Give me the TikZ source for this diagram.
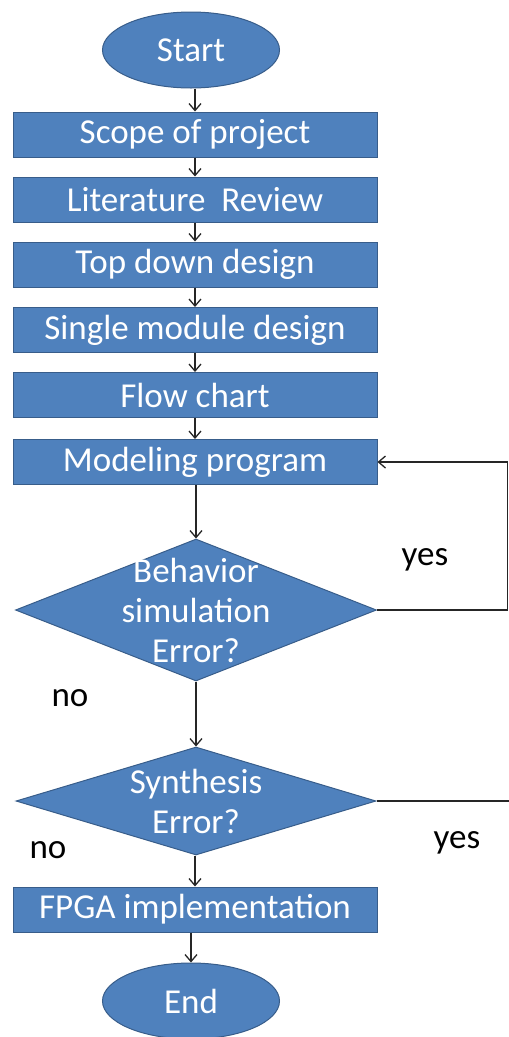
\documentclass[tikz,border=0pt]{standalone}
\usepackage{fontspec}
\setmainfont{Carlito}
\usetikzlibrary{shapes.geometric,arrows.meta}

\definecolor{boxblue}{RGB}{79,129,189}
\definecolor{edgeblue}{RGB}{56,93,138}
\definecolor{wire}{RGB}{38,38,38}

\tikzset{
  base/.style={fill=boxblue, draw=edgeblue, line width=1pt, text=white,
    inner sep=0pt, font=\fontsize{35}{40}\selectfont},
  terminal/.style={base, ellipse, minimum width=177pt, minimum height=76pt},
  process/.style={base, rectangle, minimum width=364pt, minimum height=45pt},
  decision/.style 2 args={base, diamond, minimum width=#1, minimum height=#2},
  inside/.style={text=white, align=center, inner sep=0pt,
    font=\fontsize{35}{40}\selectfont},
  note/.style={anchor=base, inner sep=0pt, font=\fontsize{35}{40}\selectfont},
  flow/.style={->, line width=1.3pt, draw=wire},
  wireline/.style={line width=1.3pt, draw=wire},
}

\begin{document}
\begin{tikzpicture}[x=1pt,y=-1pt,>={Straight Barb[length=7pt,width=12pt]}]
    \useasboundingbox (0,0) rectangle (509,1037);

    \node[terminal] (start) at (191,50) {Start};
    \node[process] (scope) at (195,134.5) {Scope of project};
    \node[process] (literature) at (195,199.5) {Literature~~Review};
    \node[process] (topdown) at (195,264.5) {Top down design};
    \node[process] (single) at (195,330) {Single module design};
    \node[process] (flowchart) at (195,395) {Flow chart};
    \node[process] (model) at (195,462) {Modeling program};
    \node[decision={361pt}{142pt},
      label={[inside]center:{Behavior\\simulation\\Error?}}] (sim) at (196,610) {};
    \node[decision={360pt}{108pt},
      label={[inside]center:{Synthesis\\Error?}}] (synth) at (196,801) {};
    \node[process] (fpga) at (195,909.5) {FPGA implementation};
    \node[terminal] (stop) at (191,1001) {End};

    % main chain, top to bottom
    \foreach \a/\b in {start/scope, scope/literature, literature/topdown,
        topdown/single, single/flowchart, flowchart/model, model/sim,
        sim/synth, synth/fpga, fpga/stop}
      \draw[flow] (\a.south -| \b.north) -- (\b.north);

    % back to modeling on error
    \coordinate (rim) at (507.5,0);
    \coordinate (edge) at (510,0);
    \draw[flow] (sim.east) -- (sim.east -| rim) |- (model.east);
    \draw[wireline] (synth.east) -- (synth.east -| edge);

    \node[note] (yes1) at (425,565) {yes};
    \node[note] (no1) at (70,706) {no};
    \node[note] (yes2) at (457,848) {yes};
    \node[note] (no2) at (48,858) {no};
\end{tikzpicture}
\end{document}
